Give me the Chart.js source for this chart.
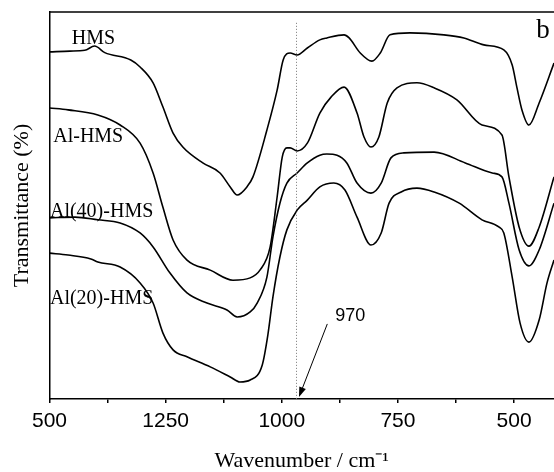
<!DOCTYPE html>
<html>
<head>
<meta charset="utf-8">
<script src="https://cdn.jsdelivr.net/npm/chart.js@4.4.1/dist/chart.umd.min.js"></script>
<style>
  html, body { margin: 0; padding: 0; background: #fff; }
  #wrap { width: 554px; height: 472px; position: relative; }
</style>
</head>
<body>
<div id="wrap"><canvas id="ftir"></canvas></div>
<script>
// FT-IR spectra, wavenumber in cm-1, transmittance in arbitrary % (curves offset)
const hmsWavenumber = [1500, 1456, 1424, 1403, 1381, 1325, 1305, 1277, 1256, 1234, 1213, 1170, 1133, 1111, 1096, 1075, 1062, 1032, 1010, 997, 982, 967, 945, 918, 903, 866, 855, 831, 806, 788, 767, 724, 651, 608, 565, 522, 504, 494, 483, 468, 446, 414];
const hmsTransmittance = [89.7, 89.9, 90.1, 91.2, 89.5, 87.6, 85.8, 81.7, 75.5, 68.7, 65.1, 61.0, 58.4, 54.8, 52.7, 54.8, 57.4, 69.5, 79.8, 87.6, 89.4, 88.9, 90.7, 92.8, 93.3, 94.1, 93.3, 89.4, 87.3, 89.4, 94.1, 94.6, 94.1, 93.3, 91.5, 90.2, 86.3, 80.6, 74.7, 70.8, 76.5, 86.8];

const alHmsWavenumber = [1500, 1460, 1396, 1348, 1305, 1277, 1256, 1234, 1204, 1154, 1105, 1068, 1047, 1025, 1010, 999, 989, 982, 967, 945, 918, 894, 866, 838, 823, 808, 791, 773, 752, 709, 672, 623, 569, 526, 511, 489, 468, 446, 414];
const alHmsTransmittance = [75.2, 74.7, 73.4, 70.8, 66.1, 58.4, 49.6, 41.1, 35.9, 33.3, 30.7, 31.3, 33.3, 39.3, 52.2, 62.5, 64.9, 64.9, 64.1, 66.1, 73.9, 78.0, 80.6, 73.9, 67.7, 65.1, 67.7, 76.5, 80.4, 81.7, 80.4, 77.3, 70.8, 68.2, 57.4, 44.4, 39.5, 44.4, 57.4];

const al40Wavenumber = [1500, 1445, 1396, 1348, 1305, 1277, 1241, 1204, 1161, 1118, 1096, 1068, 1053, 1032, 1019, 1004, 989, 967, 945, 918, 903, 881, 860, 838, 808, 786, 765, 737, 672, 605, 547, 526, 511, 489, 468, 446, 414];
const al40Transmittance = [46.8, 47.0, 46.3, 45.5, 42.9, 39.3, 32.6, 27.4, 24.8, 23.0, 21.2, 22.5, 24.8, 31.5, 41.9, 50.6, 55.8, 58.4, 61.0, 63.0, 63.3, 63.0, 61.0, 55.8, 53.2, 55.8, 62.3, 63.6, 63.8, 61.0, 58.4, 57.4, 50.6, 38.5, 34.4, 38.5, 50.6];

const al20Wavenumber = [1500, 1460, 1411, 1396, 1348, 1305, 1277, 1256, 1234, 1204, 1154, 1111, 1090, 1068, 1042, 1030, 1019, 1004, 989, 967, 945, 918, 888, 864, 838, 808, 786, 769, 743, 709, 672, 618, 569, 532, 522, 504, 487, 468, 446, 429, 414];
const al20Transmittance = [37.7, 37.2, 36.2, 35.4, 34.1, 30.0, 24.8, 17.1, 12.7, 10.9, 8.3, 5.7, 4.4, 4.9, 8.8, 16.5, 26.4, 36.7, 43.7, 48.8, 51.4, 54.8, 55.8, 54.0, 47.0, 39.8, 42.9, 50.6, 53.5, 54.5, 53.5, 50.6, 46.3, 44.4, 42.9, 31.5, 19.6, 14.7, 20.4, 30.0, 35.9];

const seriesNames = ['HMS', 'Al-HMS', 'Al(40)-HMS', 'Al(20)-HMS'];
const tickValues = [500, 625, 750, 875, 1000, 1125, 1250, 1375, 1500];
const tickLabels = ['500', '', '750', '', '1000', '', '1250', '', '500'];
const markerWavenumber = 970;

const SERIF = "'Liberation Serif', 'Times New Roman', serif";
const SANS = "'Liberation Sans', Arial, sans-serif";

const toPoints = (wn, t) => wn.map((w, i) => ({ x: w, y: t[i] }));

const series = [
    toPoints(hmsWavenumber, hmsTransmittance),
    toPoints(alHmsWavenumber, alHmsTransmittance),
    toPoints(al40Wavenumber, al40Transmittance),
    toPoints(al20Wavenumber, al20Transmittance)
];

// frame top line, 970 marker, arrow and text labels
const decorations = {
    id: 'decorations',
    afterDraw(chart) {
        const { ctx, chartArea: a, scales: { x, y } } = chart;
        const px = (w) => x.getPixelForValue(w);
        const py = (v) => y.getPixelForValue(v);
        ctx.save();

        ctx.strokeStyle = '#000';
        ctx.lineWidth = 1.5;
        ctx.beginPath();
        ctx.moveTo(a.left, a.top);
        ctx.lineTo(a.right, a.top);
        ctx.stroke();

        const mx = Math.round(px(markerWavenumber)) + 0.5;
        ctx.strokeStyle = '#777';
        ctx.lineWidth = 1;
        ctx.setLineDash([1, 2]);
        ctx.beginPath();
        ctx.moveTo(mx, py(97.2));
        ctx.lineTo(mx, a.bottom);
        ctx.stroke();
        ctx.setLineDash([]);

        // arrow pointing at 970
        const x0 = px(902), y0 = py(19.4), x1 = px(963), y1 = py(0.5);
        const ang = Math.atan2(y1 - y0, x1 - x0);
        ctx.strokeStyle = '#000';
        ctx.fillStyle = '#000';
        ctx.lineWidth = 1;
        ctx.beginPath();
        ctx.moveTo(x0, y0);
        ctx.lineTo(x1 - 6 * Math.cos(ang), y1 - 6 * Math.sin(ang));
        ctx.stroke();
        ctx.beginPath();
        ctx.moveTo(x1, y1);
        ctx.lineTo(x1 - 10 * Math.cos(ang) + 3.5 * Math.sin(ang), y1 - 10 * Math.sin(ang) - 3.5 * Math.cos(ang));
        ctx.lineTo(x1 - 10 * Math.cos(ang) - 3.5 * Math.sin(ang), y1 - 10 * Math.sin(ang) + 3.5 * Math.cos(ang));
        ctx.closePath();
        ctx.fill();

        ctx.textBaseline = 'middle';
        ctx.textAlign = 'left';
        ctx.font = '18px ' + SANS;
        ctx.fillText(String(markerWavenumber), px(885), py(21.4));

        ctx.font = '20px ' + SERIF;
        const labelPos = [[1452, 93.0], [1492, 67.7], [1499, 48.3], [1499, 25.8]];
        seriesNames.forEach((name, i) => {
            ctx.fillText(name, px(labelPos[i][0]), py(labelPos[i][1]));
        });

        ctx.font = '27px ' + SERIF;
        ctx.fillText('b', px(452), py(95.0));
        ctx.restore();
    }
};

new Chart(document.getElementById('ftir'), {
    type: 'line',
    data: {
        datasets: series.map((pts, i) => ({
            label: seriesNames[i],
            data: pts,
            borderColor: '#000',
            borderWidth: 1.6,
            pointRadius: 0,
            fill: false,
            cubicInterpolationMode: 'monotone'
        }))
    },
    options: {
        responsive: true,
        maintainAspectRatio: false,
        animation: false,
        events: [],
        layout: { padding: { top: 12, right: 0, bottom: 0, left: 0 } },
        scales: {
            x: {
                type: 'linear',
                reverse: true,
                min: 414,
                max: 1500,
                afterBuildTicks: (scale) => {
                    scale.ticks = tickValues.map(v => ({ value: v }));
                },
                ticks: {
                    autoSkip: false,
                    maxRotation: 0,
                    padding: 6,
                    color: '#000',
                    font: { family: SANS, size: 21 },
                    callback: (value, index) => tickLabels[index]
                },
                grid: { drawOnChartArea: false, drawTicks: true, tickLength: 4, color: '#000', lineWidth: 1.5 },
                border: { display: true, color: '#000', width: 1.5 },
                title: {
                    display: true,
                    text: 'Wavenumber / cm⁻¹',
                    color: '#000',
                    font: { family: SERIF, size: 22, lineHeight: 1 },
                    padding: { top: 9.8, bottom: 0 }
                }
            },
            y: {
                min: 0,
                max: 100,
                ticks: { display: false },
                grid: { display: false, drawTicks: false },
                border: { display: true, color: '#000', width: 1.5 },
                title: {
                    display: true,
                    text: 'Transmittance (%)',
                    color: '#000',
                    font: { family: SERIF, size: 22, lineHeight: 1.2 },
                    padding: { top: 8.8, bottom: 14.3 }
                }
            }
        },
        plugins: {
            legend: { display: false },
            tooltip: { enabled: false }
        }
    },
    plugins: [decorations]
});
</script>
</body>
</html>
